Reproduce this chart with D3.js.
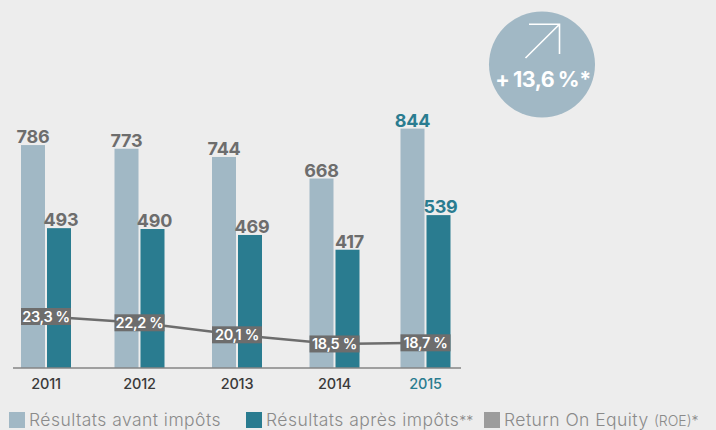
<!DOCTYPE html>
<html><head><meta charset="utf-8">
<script src="https://cdnjs.cloudflare.com/ajax/libs/d3/7.8.5/d3.min.js"></script>
<style>html,body{margin:0;padding:0;background:#ededed}svg{display:block}text{font-family:Inter,"Open Sans",sans-serif}</style>
</head><body><svg id="c" width="716" height="430"></svg>
<script>
const years = ["2011","2012","2013","2014","2015"];
const avantImpots = [786,773,744,668,844];
const apresImpots = [493,490,469,417,539];
const roe = [23.3,22.2,20.1,18.5,18.7];
const roeLabels = ["23,3 %","22,2 %","20,1 %","18,5 %","18,7 %"];
const highlightYear = "2015";
const groupCentres = [46,139.5,237,334.5,425.5];

const LIGHT="#a1b8c5", DARK="#2a7c90", GREY="#6d6d6d";
const svg=d3.select("#c");
const baseY=368;
const x=d3.scaleOrdinal(years,groupCentres);
const y=d3.scaleLinear([0,844],[baseY,128.6]);
const yRoe=d3.scaleLinear([14.3,23.3],[baseY,316.5]);
const barW=24, gap=1;
const col=yr=>yr===highlightYear?DARK:GREY;

svg.append("rect").attr("width",716).attr("height",430).attr("fill","#ededed");

svg.selectAll(".a").data(years).join("rect").attr("x",d=>x(d)-gap-barW).attr("width",barW)
 .attr("y",(d,i)=>y(avantImpots[i])).attr("height",(d,i)=>baseY-y(avantImpots[i])).attr("fill",LIGHT);
svg.selectAll(".b").data(years).join("rect").attr("x",d=>x(d)+gap).attr("width",barW)
 .attr("y",(d,i)=>y(apresImpots[i])).attr("height",(d,i)=>baseY-y(apresImpots[i])).attr("fill",DARK);

svg.append("line").attr("x1",13).attr("x2",461).attr("y1",368).attr("y2",368).attr("stroke","#858585").attr("stroke-width",1.5);

const vals=(arr,dx)=>svg.append("g").selectAll("text").data(years).join("text")
 .attr("x",d=>x(d)+dx).attr("y",(d,i)=>y(arr[i])-2).attr("text-anchor","middle")
 .attr("font-size",18).attr("font-weight",700).attr("letter-spacing",-0.2).attr("fill",col).text((d,i)=>arr[i]);
vals(avantImpots,-13); vals(apresImpots,15);

svg.append("path").datum(years).attr("fill","none").attr("stroke",GREY).attr("stroke-width",2.5)
 .attr("d",d3.line().x(d=>x(d)).y((d,i)=>yRoe(roe[i])));
svg.selectAll(".rb").data(years).join("rect").attr("x",d=>x(d)-25).attr("width",50).attr("height",17)
 .attr("y",(d,i)=>yRoe(roe[i])-8.5).attr("fill",GREY);
svg.selectAll(".rt").data(years).join("text").attr("x",d=>x(d)).attr("y",(d,i)=>yRoe(roe[i])+5.2)
 .attr("text-anchor","middle").attr("font-size",14.5).attr("font-weight",600).attr("letter-spacing",-0.35).attr("fill","#fff").text((d,i)=>roeLabels[i]);

svg.selectAll(".yr").data(years).join("text").attr("x",d=>x(d)).attr("y",389).attr("text-anchor","middle")
 .attr("font-size",14.5).attr("font-weight",500).attr("letter-spacing",-0.2).attr("fill",d=>d===highlightYear?DARK:"#3a3a3a").text(d=>d);

// legend
const legendLabels=[["Résultats avant impôts",""],["Résultats après impôts","**"],["Return On Equity ","(ROE)*"]];
const legendColors=[LIGHT,DARK,"#9c9c9c"];
const legendX=[9,246,484];
legendLabels.forEach((l,i)=>{
 svg.append("rect").attr("x",legendX[i]).attr("y",412).attr("width",16).attr("height",16).attr("fill",legendColors[i]);
 const t=svg.append("text").attr("x",legendX[i]+20).attr("y",426).attr("font-size",17.5).attr("font-weight",300).attr("letter-spacing",0.45).attr("fill","#8a8a8a").text(l[0]);
 if(l[1]) t.append("tspan").attr("font-size",14).attr("letter-spacing",0).text(l[1]);
});

// badge
svg.append("circle").attr("cx",542).attr("cy",64.5).attr("r",53).attr("fill",LIGHT);
svg.append("path").attr("d","M529 24.3H559.5V54M559.5 24.3L525.5 58").attr("fill","none").attr("stroke","#fff").attr("stroke-width",1.6);
svg.append("text").attr("x",543).attr("y",87).attr("text-anchor","middle").attr("font-size",21.5).attr("font-weight",700).attr("letter-spacing",-0.5).attr("word-spacing",-1).attr("fill","#fff").text("+ 13,6 %*");
</script></body></html>
